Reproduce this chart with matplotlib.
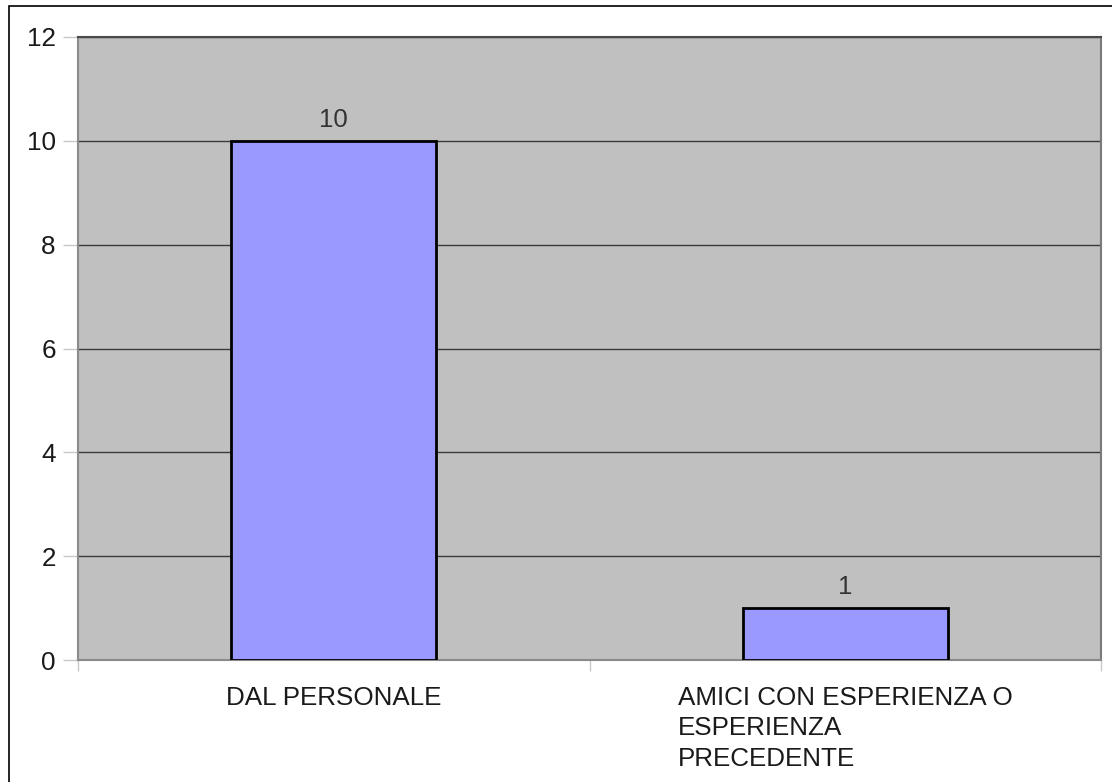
import matplotlib
matplotlib.use('Agg')
import matplotlib.pyplot as plt
from matplotlib.patches import Rectangle

# dati del grafico
categorie = ['DAL PERSONALE', 'AMICI CON ESPERIENZA O\nESPERIENZA\nPRECEDENTE']
valori = [10, 1]
y_ticks = [0, 2, 4, 6, 8, 10, 12]

plt.rcParams['font.family'] = ['Liberation Sans', 'DejaVu Sans']

fig = plt.figure(figsize=(11.12, 7.82), dpi=100)
ax = fig.add_axes([78 / 1112, 1 - 660 / 782, (1101 - 78) / 1112, (660 - 37) / 782])
ax.set_facecolor('#c0c0c0')

x = list(range(len(categorie)))
ax.bar(x, valori, width=0.4, color='#9999ff', edgecolor='black', linewidth=2, zorder=3)
for xi, v in zip(x, valori):
    ax.text(xi, v + 0.17, str(v), ha='center', va='bottom', fontsize=18.5, color='#333333')

ax.set_xlim(-0.5, len(categorie) - 0.5)
ax.set_ylim(0, 12)
ax.set_yticks(y_ticks)
ax.yaxis.grid(True, color='#3a3a3a', linewidth=1, zorder=1)
ax.set_axisbelow(True)

ax.set_xticks(x)
ax.set_xticklabels(categorie, fontsize=18.7, color='#1a1a1a', ha='center', multialignment='left',
                   linespacing=1.32)
ax.set_xticks([-0.5, 0.5, 1.5], minor=True)
ax.tick_params(axis='x', which='major', length=0, pad=19)
ax.tick_params(axis='x', which='minor', length=8, color='#c8c8c8', width=1)
ax.tick_params(axis='y', labelsize=18.7, labelcolor='#1a1a1a', length=11, color='#c8c8c8', width=1, pad=5)

ax.spines['left'].set_color('#8a8a8a')
ax.spines['bottom'].set_color('#8a8a8a')
ax.spines['top'].set_color('#4a4a4a')
ax.spines['right'].set_color('#7a7a7a')
for s in ax.spines.values():
    s.set_linewidth(1.5)

# cornice esterna
fig.add_artist(Rectangle((9 / 1112, -0.1), 1.2, 1 - 6 / 782 + 0.1, transform=fig.transFigure,
                         fill=False, edgecolor='black', linewidth=1.2))

fig.savefig('out.png', dpi=100)
